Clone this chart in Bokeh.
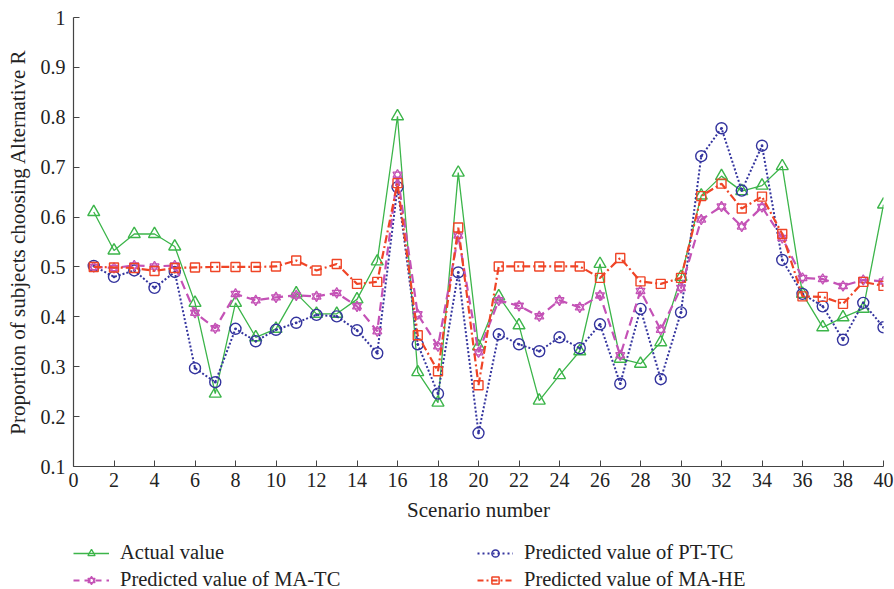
from bokeh.plotting import figure
from bokeh.layouts import column
from bokeh.models import Legend, LegendItem, FixedTicker, Range1d, ColumnDataSource
from bokeh.embed import file_html
from bokeh.resources import INLINE

scenario = list(range(1, 41))

actual = [0.610, 0.533, 0.566, 0.566, 0.541, 0.428, 0.246, 0.428, 0.359, 0.376,
          0.447, 0.406, 0.406, 0.435, 0.511, 0.802, 0.289, 0.228, 0.689, 0.341,
          0.441, 0.383, 0.232, 0.283, 0.331, 0.506, 0.316, 0.306, 0.349, 0.480,
          0.643, 0.682, 0.652, 0.663, 0.702, 0.446, 0.379, 0.399, 0.416, 0.625]

pt_tc = [0.502, 0.480, 0.493, 0.458, 0.490, 0.297, 0.269, 0.376, 0.351, 0.374,
         0.388, 0.404, 0.401, 0.373, 0.327, 0.660, 0.345, 0.246, 0.489, 0.167,
         0.365, 0.345, 0.331, 0.359, 0.337, 0.385, 0.266, 0.416, 0.275, 0.409,
         0.722, 0.778, 0.653, 0.743, 0.514, 0.446, 0.421, 0.354, 0.428, 0.379]

ma_tc = [0.500, 0.498, 0.503, 0.501, 0.503, 0.408, 0.377, 0.446, 0.433, 0.439,
         0.443, 0.441, 0.448, 0.421, 0.371, 0.685, 0.405, 0.341, 0.563, 0.329,
         0.433, 0.422, 0.401, 0.433, 0.419, 0.443, 0.323, 0.452, 0.374, 0.458,
         0.595, 0.621, 0.581, 0.620, 0.558, 0.478, 0.476, 0.462, 0.474, 0.471]

ma_he = [0.500, 0.499, 0.498, 0.492, 0.498, 0.499, 0.500, 0.500, 0.500, 0.501,
         0.513, 0.493, 0.506, 0.466, 0.470, 0.668, 0.363, 0.291, 0.579, 0.263,
         0.501, 0.501, 0.501, 0.501, 0.501, 0.478, 0.518, 0.471, 0.466, 0.478,
         0.642, 0.667, 0.617, 0.641, 0.566, 0.441, 0.440, 0.426, 0.470, 0.462]

x_ticks = [0, 2, 4, 6, 8, 10, 12, 14, 16, 18, 20, 22, 24, 26, 28, 30, 32, 34, 36, 38, 40]
y_ticks = [0.1, 0.2, 0.3, 0.4, 0.5, 0.6, 0.7, 0.8, 0.9, 1.0]
y_tick_labels = ["0.1", "0.2", "0.3", "0.4", "0.5", "0.6", "0.7", "0.8", "0.9", "1"]

series_names = ["Actual value", "Predicted value of PT-TC",
                "Predicted value of MA-TC", "Predicted value of MA-HE"]

GREEN = "#3cb54a"
BLUE = "#34349e"
MAGENTA = "#c452b6"
RED = "#ef4426"
FONT = "Liberation Serif"

src = ColumnDataSource(dict(x=scenario, actual=actual, pt=pt_tc, matc=ma_tc, mahe=ma_he))

# ---- main chart ----
p = figure(width=894, height=530, output_backend="svg", toolbar_location=None,
           x_range=Range1d(0, 40), y_range=Range1d(0.1, 1.0),
           min_border_left=73, min_border_right=11, min_border_top=17, min_border_bottom=64)
p.outline_line_color = None
p.grid.visible = False
p.background_fill_color = "white"
p.border_fill_color = "white"

for ax in (p.xaxis[0], p.yaxis[0]):
    ax.axis_line_color = "#444444"
    ax.axis_line_width = 1.2
    ax.major_tick_line_color = "#444444"
    ax.major_tick_in = 6
    ax.major_tick_out = 0
    ax.minor_tick_line_color = None
    ax.major_label_text_font = FONT
    ax.major_label_text_font_size = "20px"
    ax.major_label_text_color = "#222222"
    ax.axis_label_text_font = FONT
    ax.axis_label_text_font_style = "normal"
    ax.axis_label_text_color = "#222222"

p.xaxis.ticker = FixedTicker(ticks=x_ticks)
p.xaxis.major_label_standoff = 6
p.xaxis.axis_label = "Scenario number"
p.xaxis.axis_label_text_font_size = "21px"
p.xaxis.axis_label_standoff = 8

p.yaxis.ticker = FixedTicker(ticks=y_ticks)
p.yaxis.major_label_overrides = {t: l for t, l in zip(y_ticks, y_tick_labels)}
p.yaxis.major_label_standoff = 8
p.yaxis.axis_label = "Proportion of subjects choosing Alternative R"
p.yaxis.axis_label_text_font_size = "21px"
p.yaxis.axis_label_standoff = 8

p.line("x", "actual", source=src, line_color=GREEN, line_width=1.3)
p.scatter("x", "actual", source=src, marker="triangle", size=12,
          line_color=GREEN, fill_color=None, line_width=1.4)
p.line("x", "pt", source=src, line_color=BLUE, line_width=2, line_dash="2 2")
p.scatter("x", "pt", source=src, marker="circle_dot", size=11,
          line_color=BLUE, fill_color=None, line_width=1.4)
p.line("x", "matc", source=src, line_color=MAGENTA, line_width=2.2, line_dash="9 5")
p.scatter("x", "matc", source=src, marker="triangle", size=9,
          line_color=MAGENTA, fill_color=None, line_width=1.3)
p.scatter("x", "matc", source=src, marker="inverted_triangle", size=9,
          line_color=MAGENTA, fill_color=None, line_width=1.3)
p.line("x", "mahe", source=src, line_color=RED, line_width=2.2, line_dash="8 3 2 3")
p.scatter("x", "mahe", source=src, marker="square", size=9,
          line_color=RED, fill_color=None, line_width=1.4)

# ---- legend strip: same series as legend keys, viewed outside their data range ----
q = figure(width=894, height=59, output_backend="svg", toolbar_location=None,
           x_range=Range1d(-20, -10), y_range=Range1d(0.1, 1.0),
           x_axis_type=None, y_axis_type=None,
           min_border_left=0, min_border_right=0, min_border_top=0, min_border_bottom=0)
q.outline_line_color = None
q.grid.visible = False

k1 = [q.line("x", "actual", source=src, line_color=GREEN, line_width=1.3),
      q.scatter("x", "actual", source=src, marker="triangle", line_color=GREEN,
                fill_color=None, line_width=1.3)]
k2 = [q.line("x", "pt", source=src, line_color=BLUE, line_width=2, line_dash="2 3"),
      q.scatter("x", "pt", source=src, marker="circle", line_color=BLUE,
                fill_color=None, line_width=1.5)]
k3 = [q.line("x", "matc", source=src, line_color=MAGENTA, line_width=2, line_dash="6 5"),
      q.scatter("x", "matc", source=src, marker="triangle", line_color=MAGENTA,
                fill_color=None, line_width=1.2),
      q.scatter("x", "matc", source=src, marker="inverted_triangle", line_color=MAGENTA,
                fill_color=None, line_width=1.2)]
k4 = [q.line("x", "mahe", source=src, line_color=RED, line_width=2, line_dash="6 3 2 3"),
      q.scatter("x", "mahe", source=src, marker="square", line_color=RED,
                fill_color=None, line_width=1.5)]


def make_legend(items, vx):
    lg = Legend(items=items, location=(vx, -2), orientation="vertical")
    lg.glyph_width = 36
    lg.glyph_height = 18
    lg.label_height = 18
    lg.spacing = 4
    lg.padding = 0
    lg.margin = 0
    lg.label_standoff = 11
    lg.label_text_font = FONT
    lg.label_text_font_size = "20.5px"
    lg.label_text_color = "#222222"
    lg.border_line_color = None
    lg.background_fill_alpha = 0
    return lg


q.add_layout(make_legend([LegendItem(label=series_names[0], renderers=k1),
                          LegendItem(label=series_names[2], renderers=k3)], 0), "center")
q.add_layout(make_legend([LegendItem(label=series_names[1], renderers=k2),
                          LegendItem(label=series_names[3], renderers=k4)], 404), "center")

open("out.html", "w").write(file_html(column(p, q, spacing=0), INLINE))
